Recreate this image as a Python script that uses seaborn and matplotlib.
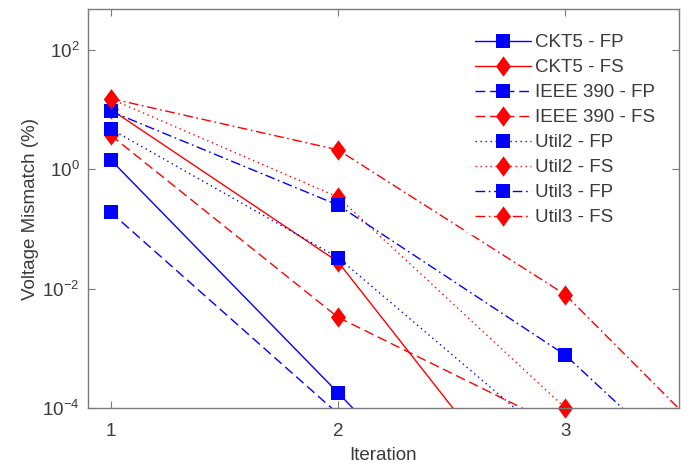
import numpy as np
import pandas as pd
import matplotlib
matplotlib.use("Agg")
import matplotlib.pyplot as plt
from matplotlib.lines import Line2D
import seaborn as sns

# ---- data ----
series_names = ["CKT5 - FP", "CKT5 - FS", "IEEE 390 - FP", "IEEE 390 - FS",
                "Util2 - FP", "Util2 - FS", "Util3 - FP", "Util3 - FS"]
ckt5_fp_iter = [1, 2, 3]
ckt5_fp_vals = [1.43, 1.8e-4, 2e-8]
ckt5_fs_iter = [1, 2, 3]
ckt5_fs_vals = [10.0, 0.028, 4e-7]
ieee_fp_iter = [1, 2]
ieee_fp_vals = [0.19, 8e-5]
ieee_fs_iter = [1, 2, 3]
ieee_fs_vals = [3.7, 0.0033, 4.4e-5]
util2_fp_iter = [1, 2, 3]
util2_fp_vals = [4.7, 0.033, 1.9e-5]
util2_fs_iter = [1, 2, 3]
util2_fs_vals = [15.0, 0.34, 1.0e-4]
util3_fp_iter = [1, 2, 3, 4]
util3_fp_vals = [9.3, 0.25, 7.7e-4, 2.2e-7]
util3_fs_iter = [1, 2, 3, 4]
util3_fs_vals = [15.2, 2.1, 0.0079, 1.2e-6]

iters = [ckt5_fp_iter, ckt5_fs_iter, ieee_fp_iter, ieee_fs_iter,
         util2_fp_iter, util2_fs_iter, util3_fp_iter, util3_fs_iter]
vals = [ckt5_fp_vals, ckt5_fs_vals, ieee_fp_vals, ieee_fs_vals,
        util2_fp_vals, util2_fs_vals, util3_fp_vals, util3_fs_vals]

x_ticks = [1, 2, 3]
y_ticks = [1e-4, 1e-2, 1e0, 1e2]
x_lim = (0.9, 3.5)
y_lim = (1e-4, 480)

# ---- styles ----
BLUE = "#0000ff"
RED = "#ff0000"
colors = [BLUE, RED] * 4
styles = ["-", "-",
          (0, (7, 3.5)), (0, (7, 3.5)),
          (0, (1, 2.6)), (0, (1, 2.6)),
          (0, (7, 2.6, 1.2, 2.6)), (0, (7, 2.6, 1.2, 2.6))]
diamond = [(0, 1), (0.74, 0), (0, -1), (-0.74, 0), (0, 1)]
markers = ["s", diamond] * 4
msizes = [9.4, 14.6] * 4

sns.set_theme(style="white")
plt.rcParams["font.family"] = ["Liberation Sans", "DejaVu Sans"]
TXT = "#3a3a3a"
AX = "#7a7a7a"
FS = 13.5

fig = plt.figure(figsize=(6.91, 4.66), dpi=100)
ax = fig.add_axes([88 / 691, 1 - 408 / 466, (679 - 88) / 691, (408 - 9) / 466])
ax.set_yscale("log")

handles = []
for name, xs, ys, c, ls, mk, ms in zip(series_names, iters, vals, colors, styles, markers, msizes):
    df = pd.DataFrame({"Iteration": xs, "val": ys})
    sns.lineplot(data=df, x="Iteration", y="val", ax=ax, color=c, linestyle=ls,
                 linewidth=1.0, estimator=None, sort=False, legend=False)
    vis = df[(df["val"] >= y_lim[0] * 0.999) & (df["Iteration"] <= x_lim[1])]
    sns.lineplot(data=vis, x="Iteration", y="val", ax=ax, color=c, linestyle="none",
                 marker=mk, markersize=ms, markeredgewidth=0, markeredgecolor=c,
                 markerfacecolor=c, estimator=None, sort=False, legend=False, clip_on=False)
    handles.append(Line2D([], [], color=c, linestyle=ls, linewidth=1.0, marker=mk,
                          markersize=ms, markeredgewidth=0, markerfacecolor=c, label=name))

ax.set_xlim(*x_lim)
ax.set_ylim(*y_lim)
ax.set_xticks(x_ticks)
ax.set_xticklabels([str(t) for t in x_ticks])
ax.set_yticks(y_ticks)
ax.yaxis.set_minor_locator(matplotlib.ticker.NullLocator())
ax.set_xlabel("Iteration", fontsize=FS, color=TXT, labelpad=5)
ax.set_ylabel("Voltage Mismatch (%)", fontsize=FS, color=TXT, labelpad=2.5)
ax.tick_params(axis="both", which="both", direction="in", length=5, width=0.8,
               colors=AX, labelcolor=TXT, labelsize=FS, top=True, right=True,
               left=True, bottom=True, pad=6)
ax.tick_params(axis="x", pad=11)
for sp in ax.spines.values():
    sp.set_visible(True)
    sp.set_color(AX)
    sp.set_linewidth(1.0)

leg = ax.legend(handles=handles, loc="upper right", bbox_to_anchor=(1.0, 0.996),
                fontsize=FS, frameon=True, handlelength=3.0, handletextpad=0.25,
                labelspacing=0.42, borderaxespad=0.85, numpoints=1)
leg.get_frame().set_edgecolor("white")
leg.get_frame().set_facecolor("white")
leg.get_frame().set_alpha(1.0)
for t in leg.get_texts():
    t.set_color(TXT)

fig.savefig("out.png", dpi=100)
